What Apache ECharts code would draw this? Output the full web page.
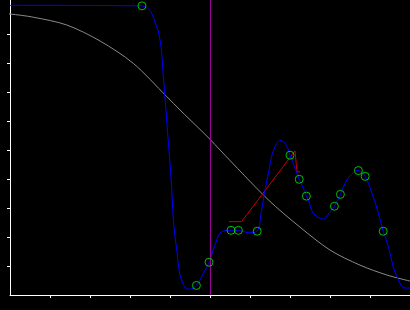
<!DOCTYPE html>
<html>
<head>
<meta charset="utf-8">
<script src="https://cdn.jsdelivr.net/npm/echarts@6/dist/echarts.min.js"></script>
<style>html,body{margin:0;padding:0;background:#000;}#c{width:410px;height:310px;}</style>
</head>
<body>
<div id="c"></div>
<script>
// Tick positions (no labels shown)
const xTicks = [1, 2, 3, 4, 5, 6, 7, 8, 9];
const yTicks = [1, 2, 3, 4, 5, 6, 7, 8, 9];
const markerX = 5.0;

// Blue curve [x, y]
const blueX = [0, 3.3, 3.43, 3.525, 3.58, 3.65, 3.7, 3.78, 3.83, 3.89, 3.94, 3.99, 4.04, 4.08, 4.125, 4.17, 4.21, 4.25, 4.32, 4.42, 4.5, 4.58, 4.66, 4.75, 4.975, 5.08, 5.17, 5.25, 5.375, 5.525, 5.71, 5.96, 6.18, 6.29, 6.375, 6.46, 6.54, 6.625, 6.75, 6.875, 6.96, 7.0, 7.08, 7.23, 7.32, 7.41, 7.46, 7.58, 7.82, 8.0, 8.11, 8.26, 8.42, 8.57, 8.65, 8.71, 8.88, 9.08, 9.21, 9.33, 9.46, 9.58, 9.71, 9.79, 9.875, 10];
const blueY = [9.99, 9.97, 9.9, 9.76, 9.59, 9.31, 9.14, 8.52, 7.59, 6.55, 5.59, 4.72, 3.72, 2.69, 2.0, 1.55, 1.03, 0.69, 0.41, 0.21, 0.2, 0.24, 0.33, 0.52, 1.13, 1.55, 1.9, 2.14, 2.22, 2.23, 2.23, 2.15, 2.2, 2.93, 3.62, 4.2, 4.77, 5.11, 5.34, 5.23, 5.0, 4.82, 4.54, 3.99, 3.72, 3.41, 3.28, 2.82, 2.62, 2.86, 3.06, 3.47, 3.97, 4.2, 4.29, 4.29, 4.09, 3.39, 2.82, 2.2, 1.67, 0.98, 0.52, 0.31, 0.24, 0.24];

// Green sample points
const ptX = [3.3, 4.66, 4.975, 5.525, 5.71, 6.18, 7.0, 7.23, 7.41, 8.11, 8.26, 8.71, 8.88, 9.33];
const ptY = [9.97, 0.33, 1.13, 2.23, 2.23, 2.2, 4.82, 3.99, 3.41, 3.06, 3.47, 4.29, 4.09, 2.2];

// Gray smooth curve
const grayX = [-0.25, 0, 0.58, 1.42, 2.25, 3.08, 3.92, 4.25, 4.75, 5.0, 5.25, 6.46, 7.25, 8.0, 8.75, 9.42, 10];
const grayY = [9.71, 9.69, 9.58, 9.31, 8.76, 7.99, 6.84, 6.38, 5.71, 5.37, 5.0, 3.28, 2.34, 1.55, 1.03, 0.69, 0.48];

// Red polyline
const redX = [5.475, 5.79, 7.125, 7.175, 7.175, 7.25];
const redY = [2.53, 2.53, 4.97, 5.0, 4.25, 4.25];

const zip = (a, b) => a.map((v, i) => [v, b[i]]);

const chart = echarts.init(document.getElementById('c'), null, {renderer: 'canvas'});
const axisCommon = {
  type: 'value',
  axisLine: {show: true, onZero: false, lineStyle: {color: '#ffffff', width: 1}},
  axisLabel: {show: false},
  splitLine: {show: false}
};
chart.setOption({
  backgroundColor: '#000000',
  animation: false,
  grid: {left: 10, right: 0, top: 0, bottom: 15},
  xAxis: Object.assign({}, axisCommon, {
    min: 0, max: 10,
    axisTick: {show: true, length: 3, inside: false, customValues: xTicks, lineStyle: {color: '#ffffff'}}
  }),
  yAxis: Object.assign({}, axisCommon, {
    min: 0, max: 295 / 29,
    axisTick: {show: true, length: 3, inside: false, customValues: yTicks, lineStyle: {color: '#ffffff'}}
  }),
  series: [
    {
      type: 'line', data: zip(grayX, grayY), smooth: 0.3, showSymbol: false, clip: false,
      lineStyle: {color: '#8a8a8a', width: 1}, z: 2
    },
    {
      type: 'line', data: zip(redX, redY), showSymbol: false,
      lineStyle: {color: '#c80000', width: 1}, z: 3
    },
    {
      type: 'line', data: zip(blueX, blueY), smooth: 0.3, showSymbol: false,
      lineStyle: {color: '#0000ff', width: 1}, z: 4,
      markLine: {
        silent: true, symbol: 'none', label: {show: false}, animation: false,
        lineStyle: {color: '#990099', width: 1, type: 'solid'},
        data: [{xAxis: markerX}]
      }
    },
    {
      type: 'scatter', data: zip(ptX, ptY), symbol: 'circle', symbolSize: 8,
      itemStyle: {color: 'rgba(0,0,0,0)', borderColor: '#00ee00', borderWidth: 1}, z: 5
    }
  ]
});
</script>
</body>
</html>
